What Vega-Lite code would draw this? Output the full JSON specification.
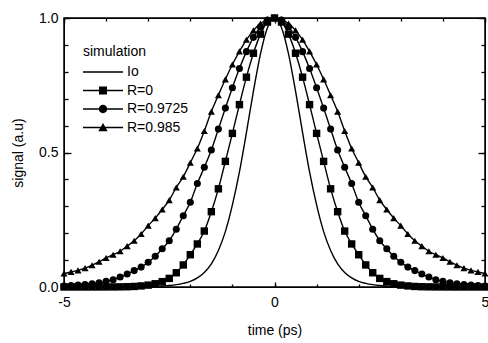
{
  "$schema": "https://vega.github.io/schema/vega-lite/v6.json",
  "width": 421,
  "height": 269,
  "autosize": {"type": "none"},
  "padding": {"left": 64, "top": 18, "right": 3, "bottom": 56},
  "background": "white",
  "config": {
    "view": {"stroke": "black", "strokeWidth": 1.5},
    "font": "Liberation Sans"
  },
  "data": {"values": [
    {"t":-5,"Io":0,"R0":0,"R1":0.004,"R2":0.05},
    {"t":-4.833,"Io":0,"R0":0,"R1":0.005,"R2":0.056},
    {"t":-4.667,"Io":0,"R0":0,"R1":0.007,"R2":0.062},
    {"t":-4.5,"Io":0,"R0":0,"R1":0.009,"R2":0.07},
    {"t":-4.333,"Io":0,"R0":0,"R1":0.012,"R2":0.081},
    {"t":-4.167,"Io":0,"R0":0.0001,"R1":0.016,"R2":0.094},
    {"t":-4,"Io":0.0001,"R0":0.0002,"R1":0.021,"R2":0.108},
    {"t":-3.833,"Io":0.0002,"R0":0.0003,"R1":0.027,"R2":0.12},
    {"t":-3.667,"Io":0.0003,"R0":0.0006,"R1":0.037,"R2":0.133},
    {"t":-3.5,"Io":0.0005,"R0":0.001,"R1":0.048,"R2":0.152},
    {"t":-3.333,"Io":0.0008,"R0":0.002,"R1":0.061,"R2":0.172},
    {"t":-3.167,"Io":0.0011,"R0":0.004,"R1":0.074,"R2":0.197},
    {"t":-3,"Io":0.0017,"R0":0.007,"R1":0.092,"R2":0.228},
    {"t":-2.833,"Io":0.0025,"R0":0.012,"R1":0.114,"R2":0.256},
    {"t":-2.667,"Io":0.0038,"R0":0.02,"R1":0.142,"R2":0.288},
    {"t":-2.5,"Io":0.0058,"R0":0.032,"R1":0.172,"R2":0.323},
    {"t":-2.333,"Io":0.0088,"R0":0.053,"R1":0.215,"R2":0.37},
    {"t":-2.167,"Io":0.0136,"R0":0.082,"R1":0.265,"R2":0.41},
    {"t":-2,"Io":0.021,"R0":0.12,"R1":0.315,"R2":0.462},
    {"t":-1.833,"Io":0.034,"R0":0.16,"R1":0.385,"R2":0.515},
    {"t":-1.667,"Io":0.054,"R0":0.208,"R1":0.445,"R2":0.58},
    {"t":-1.5,"Io":0.086,"R0":0.28,"R1":0.509,"R2":0.652},
    {"t":-1.333,"Io":0.136,"R0":0.365,"R1":0.587,"R2":0.713},
    {"t":-1.167,"Io":0.206,"R0":0.467,"R1":0.665,"R2":0.772},
    {"t":-1,"Io":0.305,"R0":0.571,"R1":0.741,"R2":0.827},
    {"t":-0.833,"Io":0.428,"R0":0.678,"R1":0.812,"R2":0.876},
    {"t":-0.667,"Io":0.574,"R0":0.78,"R1":0.875,"R2":0.919},
    {"t":-0.5,"Io":0.728,"R0":0.869,"R1":0.928,"R2":0.954},
    {"t":-0.333,"Io":0.867,"R0":0.94,"R1":0.967,"R2":0.979},
    {"t":-0.167,"Io":0.964,"R0":0.985,"R1":0.992,"R2":0.995},
    {"t":0,"Io":1,"R0":1,"R1":1,"R2":1},
    {"t":0.167,"Io":0.964,"R0":0.985,"R1":0.992,"R2":0.995},
    {"t":0.333,"Io":0.867,"R0":0.94,"R1":0.967,"R2":0.979},
    {"t":0.5,"Io":0.728,"R0":0.869,"R1":0.928,"R2":0.954},
    {"t":0.667,"Io":0.574,"R0":0.78,"R1":0.875,"R2":0.919},
    {"t":0.833,"Io":0.428,"R0":0.678,"R1":0.812,"R2":0.876},
    {"t":1,"Io":0.305,"R0":0.571,"R1":0.741,"R2":0.827},
    {"t":1.167,"Io":0.206,"R0":0.467,"R1":0.665,"R2":0.772},
    {"t":1.333,"Io":0.136,"R0":0.365,"R1":0.587,"R2":0.713},
    {"t":1.5,"Io":0.086,"R0":0.28,"R1":0.509,"R2":0.652},
    {"t":1.667,"Io":0.054,"R0":0.208,"R1":0.445,"R2":0.58},
    {"t":1.833,"Io":0.034,"R0":0.16,"R1":0.385,"R2":0.515},
    {"t":2,"Io":0.021,"R0":0.12,"R1":0.315,"R2":0.462},
    {"t":2.167,"Io":0.0136,"R0":0.082,"R1":0.265,"R2":0.41},
    {"t":2.333,"Io":0.0088,"R0":0.053,"R1":0.215,"R2":0.37},
    {"t":2.5,"Io":0.0058,"R0":0.032,"R1":0.172,"R2":0.323},
    {"t":2.667,"Io":0.0038,"R0":0.02,"R1":0.142,"R2":0.288},
    {"t":2.833,"Io":0.0025,"R0":0.012,"R1":0.114,"R2":0.256},
    {"t":3,"Io":0.0017,"R0":0.007,"R1":0.092,"R2":0.228},
    {"t":3.167,"Io":0.0011,"R0":0.004,"R1":0.074,"R2":0.197},
    {"t":3.333,"Io":0.0008,"R0":0.002,"R1":0.061,"R2":0.172},
    {"t":3.5,"Io":0.0005,"R0":0.001,"R1":0.048,"R2":0.152},
    {"t":3.667,"Io":0.0003,"R0":0.0006,"R1":0.037,"R2":0.133},
    {"t":3.833,"Io":0.0002,"R0":0.0003,"R1":0.027,"R2":0.12},
    {"t":4,"Io":0.0001,"R0":0.0002,"R1":0.021,"R2":0.108},
    {"t":4.167,"Io":0,"R0":0.0001,"R1":0.016,"R2":0.094},
    {"t":4.333,"Io":0,"R0":0,"R1":0.012,"R2":0.081},
    {"t":4.5,"Io":0,"R0":0,"R1":0.009,"R2":0.07},
    {"t":4.667,"Io":0,"R0":0,"R1":0.007,"R2":0.062},
    {"t":4.833,"Io":0,"R0":0,"R1":0.005,"R2":0.056},
    {"t":5,"Io":0,"R0":0,"R1":0.004,"R2":0.05}
  ]},
  "transform": [{"fold": ["Io", "R0", "R1", "R2"], "as": ["k", "s"]}],
  "resolve": {"axis": {"x": "independent", "y": "independent"}},
  "layer": [
    {
      "transform": [{"filter": "datum.k === 'Io'"}],
      "mark": {"type": "line", "color": "black", "strokeWidth": 1.4, "interpolate": "monotone"},
      "encoding": {
        "x": {"field": "t", "type": "quantitative", "scale": {"domain": [-5, 5], "nice": false},
          "axis": {"orient": "bottom", "tickCount": 2, "gridOpacity": 0, "domainColor": "black", "tickColor": "black", "tickWidth": 1.3, "tickSize": -5,
            "labelExpr": "toString(datum.value)", "labelFont": "Liberation Sans", "labelFontSize": 14, "labelColor": "black",
            "labelFlush": false, "labelPadding": 13,
            "title": "time (ps)", "titleFont": "Liberation Sans", "titleFontSize": 14, "titleFontWeight": "normal", "titleColor": "black", "titlePadding": 14}},
        "y": {"field": "s", "type": "quantitative", "scale": {"domain": [0, 1], "nice": false},
          "axis": {"orient": "left", "tickCount": 2, "gridOpacity": 0, "domainColor": "black", "tickColor": "black", "tickWidth": 1.3, "tickSize": -7, "format": ".1f",
            "labelFont": "Liberation Sans", "labelFontSize": 14, "labelColor": "black",
            "labelFlush": false, "labelPadding": 13,
            "title": "signal (a.u)", "titleFont": "Liberation Sans", "titleFontSize": 14, "titleFontWeight": "normal", "titleColor": "black", "titlePadding": 13}}
      }
    },
    {
      "transform": [{"filter": "datum.k !== 'Io'"}],
      "mark": {"type": "line", "color": "black", "strokeWidth": 1.4, "interpolate": "monotone"},
      "encoding": {
        "x": {"field": "t", "type": "quantitative", "scale": {"domain": [-5, 5], "nice": false},
          "axis": {"orient": "top", "tickCount": 2, "gridOpacity": 0, "domainColor": "black", "labels": false, "title": null, "tickSize": -5, "tickColor": "black", "tickWidth": 1.3}},
        "y": {"field": "s", "type": "quantitative", "scale": {"domain": [0, 1], "nice": false},
          "axis": {"orient": "right", "tickCount": 2, "gridOpacity": 0, "domainColor": "black", "labels": false, "title": null, "tickSize": -7, "tickColor": "black", "tickWidth": 1.3}},
        "detail": {"field": "k", "type": "nominal"}
      }
    },
    {
      "transform": [{"filter": "datum.k === 'R0'"}],
      "mark": {"type": "point", "shape": "square", "filled": true, "color": "black", "opacity": 1, "size": 55},
      "encoding": {
        "x": {"field": "t", "type": "quantitative", "scale": {"domain": [-5, 5], "nice": false},
          "axis": {"orient": "bottom", "tickCount": 10, "gridOpacity": 0, "domainColor": "black", "labels": false, "title": null, "tickSize": -3, "tickColor": "black", "tickWidth": 1.3}},
        "y": {"field": "s", "type": "quantitative", "scale": {"domain": [0, 1], "nice": false},
          "axis": {"orient": "left", "tickCount": 10, "gridOpacity": 0, "domainColor": "black", "labels": false, "title": null, "tickSize": -4, "tickColor": "black", "tickWidth": 1.3}}
      }
    },
    {
      "transform": [{"filter": "datum.k === 'R1'"}],
      "mark": {"type": "point", "shape": "circle", "filled": true, "color": "black", "opacity": 1, "size": 50},
      "encoding": {
        "x": {"field": "t", "type": "quantitative", "scale": {"domain": [-5, 5], "nice": false},
          "axis": {"orient": "top", "tickCount": 10, "gridOpacity": 0, "domainColor": "black", "labels": false, "title": null, "tickSize": -3, "tickColor": "black", "tickWidth": 1.3}},
        "y": {"field": "s", "type": "quantitative", "scale": {"domain": [0, 1], "nice": false},
          "axis": {"orient": "right", "tickCount": 10, "gridOpacity": 0, "domainColor": "black", "labels": false, "title": null, "tickSize": -4, "tickColor": "black", "tickWidth": 1.3}}
      }
    },
    {
      "transform": [{"filter": "datum.k === 'R2'"}],
      "mark": {"type": "point", "shape": "triangle-up", "filled": true, "color": "black", "opacity": 1, "size": 50},
      "encoding": {
        "x": {"field": "t", "type": "quantitative", "scale": {"domain": [-5, 5], "nice": false}, "axis": null},
        "y": {"field": "s", "type": "quantitative", "scale": {"domain": [0, 1], "nice": false}, "axis": null}
      }
    },
    {
      "transform": [{"filter": "datum.t > 100"}],
      "mark": {"type": "point", "filled": true, "color": "black", "opacity": 1, "size": 400},
      "encoding": {
        "x": {"field": "t", "type": "quantitative", "scale": {"domain": [-5, 5], "nice": false}, "axis": null},
        "y": {"field": "s", "type": "quantitative", "scale": {"domain": [0, 1], "nice": false}, "axis": null},
        "shape": {"field": "k", "type": "nominal",
          "scale": {"domain": ["Io", "R0", "R1", "R2"], "range": [
            "M-1,-0.07H3V0.07H-1Z",
            "M-1,-0.07H3V0.07H-1Z M0.6,-0.4H1.4V0.4H0.6Z",
            "M-1,-0.07H3V0.07H-1Z M0.58,0A0.42,0.42 0 1,1 1.42,0A0.42,0.42 0 1,1 0.58,0Z",
            "M-1,-0.07H3V0.07H-1Z M1,-0.45L1.47,0.38L0.53,0.38Z"]},
          "legend": {"orient": "none", "legendX": 19, "legendY": 27, "title": "simulation",
            "titleFont": "Liberation Sans", "titleFontSize": 14, "titleFontWeight": "normal", "titleColor": "black", "titlePadding": 3,
            "labelFont": "Liberation Sans", "labelFontSize": 14, "labelColor": "black", "labelOffset": 24, "rowPadding": 1.5,
            "symbolSize": 400, "symbolFillColor": "black", "symbolStrokeWidth": 0,
            "labelExpr": "datum.value === 'Io' ? 'Io' : datum.value === 'R0' ? 'R=0' : datum.value === 'R1' ? 'R=0.9725' : 'R=0.985'"}}
      }
    }
  ]
}
